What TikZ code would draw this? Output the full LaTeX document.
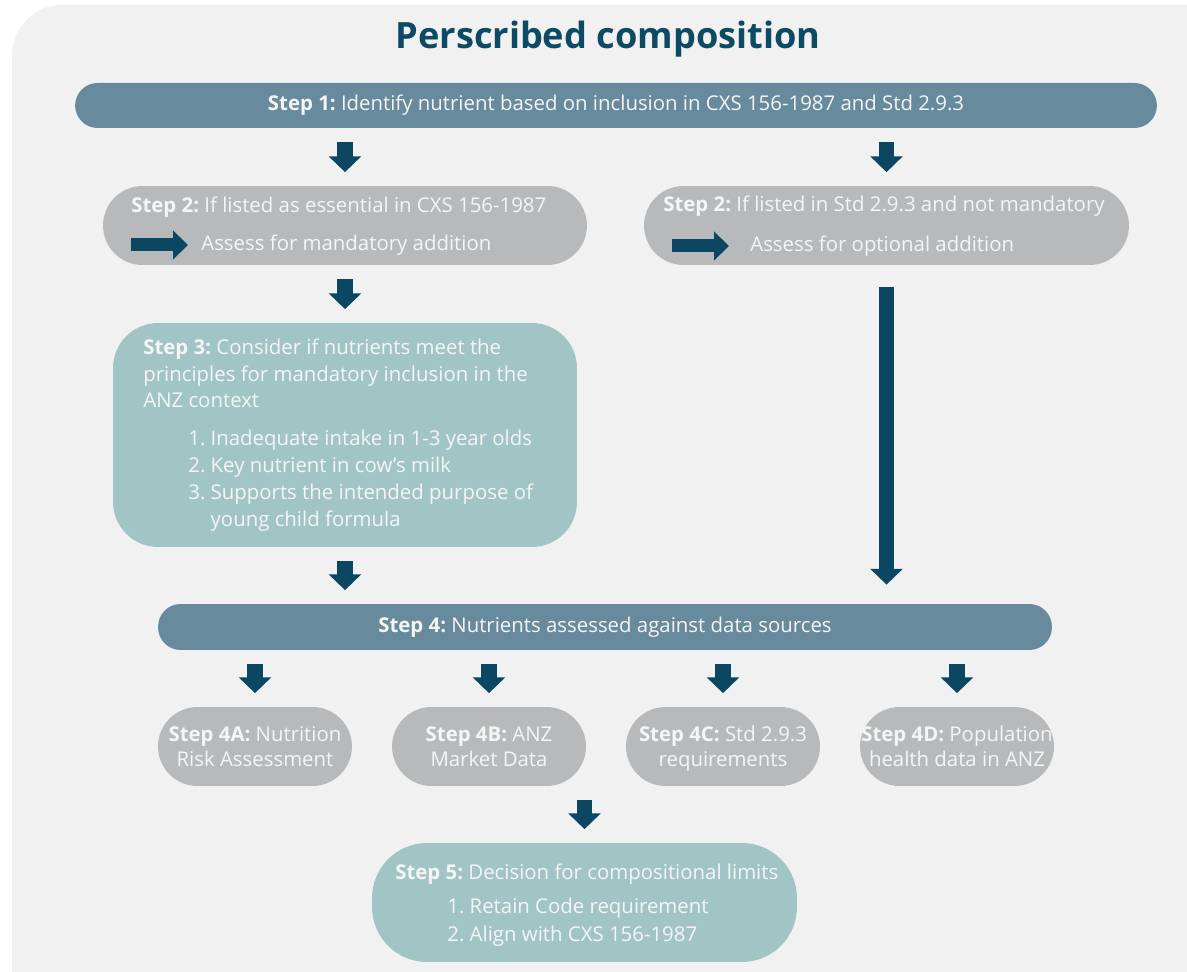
\documentclass[tikz,border=0pt]{standalone}
\usepackage{fontspec}
\setmainfont{Open Sans}
\usetikzlibrary{arrows.meta}
\definecolor{panelgrey}{HTML}{F1F1F1}
\definecolor{barblue}{HTML}{678B9C}
\definecolor{pillgrey}{HTML}{B8B9BB}
\definecolor{softteal}{HTML}{A1C5C5}
\definecolor{arrowblue}{HTML}{0B4763}
\definecolor{titleblue}{HTML}{0D4A63}
\definecolor{paletext}{HTML}{F5F5F5}
\frenchspacing
\tikzset{
    every node/.style={font=\fontsize{11.6}{15.3}\selectfont, text=paletext},
    }

\begin{document}
\begin{tikzpicture}[x=0.02cm, y=-0.02cm,
bar/.style={fill=barblue, rounded corners=0.45cm, minimum height=0.9cm, inner sep=0pt},
pill/.style={fill=pillgrey, rounded corners=0.79cm, minimum height=1.58cm, inner sep=0pt},
sourcebox/.style={pill, minimum width=3.88cm, align=center, text depth=0pt, font=\fontsize{11.6}{14.2}\selectfont},
tealbox/.style={fill=softteal, inner sep=0pt},
txt/.style={inner sep=0pt, align=left},
blockarrow/.style={draw=arrowblue, line width=9pt, -{Triangle[width=18pt,length=9pt]}, shorten <=0.27cm, shorten >=0.27cm},
smallarrow/.style={draw=arrowblue, line width=7.4pt, -{Triangle[width=16pt,length=8.5pt]}},
]
\useasboundingbox (0,0) rectangle (1187,972);
\fill[panelgrey, rounded corners=1cm] (12,5) rectangle (1240,1020);

\node[font=\fontsize{20.6}{24}\selectfont\bfseries, text=titleblue] (title) at (608,39) {Perscribed composition};

% step 1
\node[bar, minimum width=21.64cm] (s1) at (616,105.5) {\textbf{Step 1:} Identify nutrient based on inclusion in CXS 156-1987 and Std 2.9.3};

% step 2, two branches
\node[pill, minimum width=9.68cm] (s2l) at (345,225.5) {};
\node[pill, minimum width=9.7cm] (s2r) at (886.5,225.5) {};
\node[txt, anchor=base west] (s2lt) at (131,213) {\textbf{Step 2:} If listed as essential in CXS 156-1987};
\node[txt, anchor=base west] (s2la) at (201,251) {Assess for mandatory addition};
\node[txt, anchor=base west] (s2rt) at (663,212) {\textbf{Step 2:} If listed in Std 2.9.3 and not mandatory};
\node[txt, anchor=base west] (s2ra) at (750,252) {Assess for optional addition};
\coordinate (ml1) at (131,245);
\coordinate (ml2) at (188,245);
\coordinate (mr1) at (672,246);
\coordinate (mr2) at (729,246);
\draw[smallarrow] (ml1) -- (ml2);
\draw[smallarrow] (mr1) -- (mr2);

% step 3
\node[tealbox, rounded corners=0.9cm, minimum width=9.28cm, minimum height=4.48cm] (s3) at (345,435) {};
\node[txt, anchor=base west] (s3t) at (143,408) {\textbf{Step 3:} Consider if nutrients meet the\\principles for mandatory inclusion in the\\ANZ context};
\node[txt, anchor=base west, font=\fontsize{11.6}{15.5}\selectfont] (s3l) at (188,527) {1. Inadequate intake in 1-3 year olds\\2. Key nutrient in cow’s milk\\3. Supports the intended purpose of\\\phantom{3. }young child formula};

% step 4
\node[bar, minimum width=17.88cm, minimum height=0.92cm] (s4) at (605,627) {\textbf{Step 4:} Nutrients assessed against data sources};
\node[sourcebox] (s4a) at (255,746.5) {\textbf{Step 4A:} Nutrition\\Risk Assessment};
\node[sourcebox] (s4b) at (489,746.5) {\textbf{Step 4B:} ANZ\\Market Data};
\node[sourcebox] (s4c) at (723,746.5) {\textbf{Step 4C:} Std 2.9.3\\requirements};
\node[sourcebox] (s4d) at (957,746.5) {\textbf{Step 4D:} Population\\health data in ANZ};

% step 5
\node[tealbox, rounded corners=1.1cm, minimum width=8.5cm, minimum height=2.38cm] (s5) at (584.5,902.5) {};
\node[txt, anchor=base west] (s5t) at (395,879) {\textbf{Step 5:} Decision for compositional limits};
\node[txt, anchor=base west, font=\fontsize{11.6}{15.9}\selectfont] (s5l) at (447,941) {1. Retain Code requirement\\2. Align with CXS 156-1987};

% arrows
\draw[blockarrow] (s1.south -| s2l.north) -- (s2l.north);
\draw[blockarrow] (s1.south -| s2r.north) -- (s2r.north);
\draw[blockarrow] (s2l.south) -- (s3.north);
\draw[blockarrow] (s3.south) -- (s3.south |- s4.north);
\draw[blockarrow, shorten <=0.44cm, shorten >=0.38cm] (s2r.south) -- (s2r.south |- s4.north);
\foreach \b in {s4a,s4b,s4c,s4d}
  \draw[blockarrow] (s4.south -| \b.north) -- (\b.north);
\draw[blockarrow] (s5.north |- s4b.south) -- (s5.north);
\end{tikzpicture}
\end{document}
